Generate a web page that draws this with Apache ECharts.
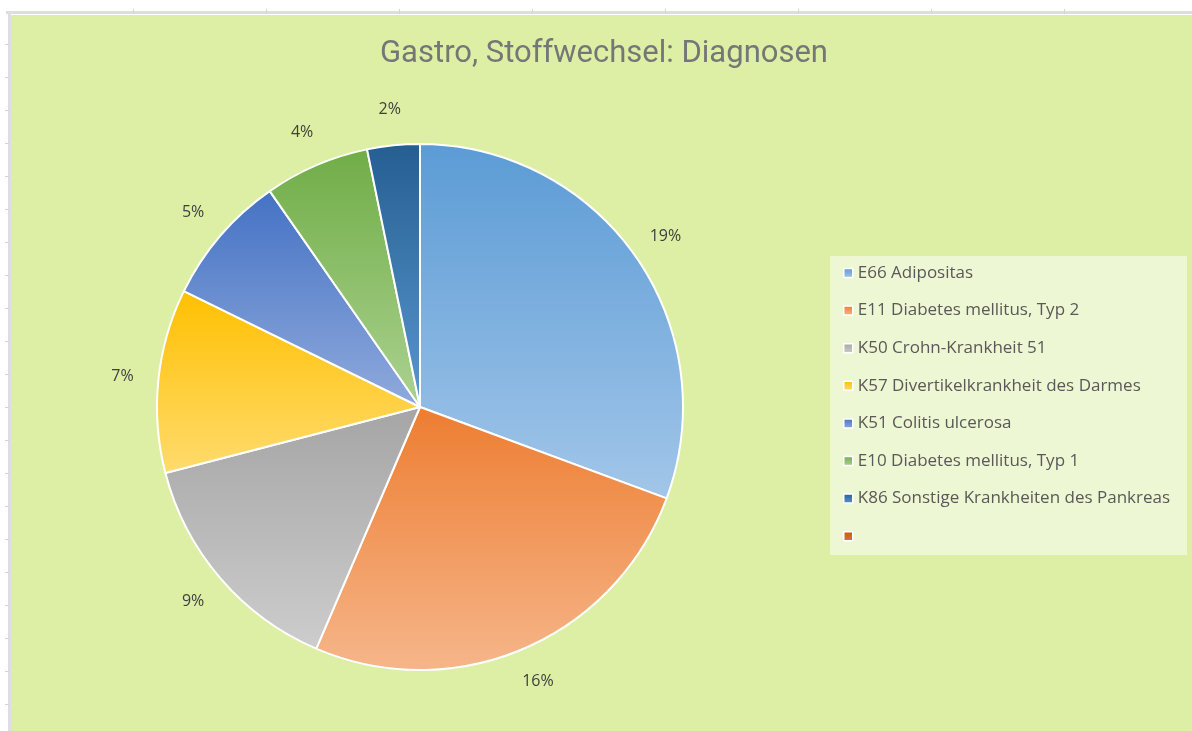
<!DOCTYPE html>
<html>
<head>
<meta charset="utf-8">
<script src="https://cdn.jsdelivr.net/npm/echarts@6/dist/echarts.min.js"></script>
<style>
html,body{margin:0;padding:0;background:#fff;}
#c{width:1192px;height:731px;}
</style>
</head>
<body>
<div id="c"></div>
<script>
const titleText = 'Gastro, Stoffwechsel: Diagnosen';
const categories = [
  'E66 Adipositas',
  'E11 Diabetes mellitus, Typ 2',
  'K50 Crohn-Krankheit 51',
  'K57 Divertikelkrankheit des Darmes',
  'K51 Colitis ulcerosa',
  'E10 Diabetes mellitus, Typ 1',
  'K86 Sonstige Krankheiten des Pankreas',
  ' '
];
const values = [19, 16, 9, 7, 5, 4, 2, 0];
const topColors = ['#5B9BD5', '#ED7D31', '#A5A5A5', '#FFC000', '#4472C4', '#70AD47', '#255E91', '#C55A11'];
const bottomColors = ['#A2C6E9', '#F6B68A', '#CDCDCD', '#FFDB6E', '#90AADC', '#ABD290', '#5A97CF', '#D9763A'];

function grad(i) {
  return new echarts.graphic.LinearGradient(0, 0, 0, 1, [
    {offset: 0, color: topColors[i]},
    {offset: 1, color: bottomColors[i]}
  ]);
}

const pieData = categories.map((n, i) => {
  const d = {name: n, value: values[i], itemStyle: {color: grad(i)}};
  if (values[i] === 0) { d.itemStyle.borderWidth = 0; d.label = {show: false}; }
  return d;
});
const labelData = categories.map((n, i) => {
  const d = {name: n, value: values[i]};
  if (values[i] === 0) { d.label = {show: false}; }
  return d;
});

// decorative spreadsheet frame
const frame = [
  {type: 'rect', shape: {x: 11, y: 15, width: 1181, height: 716}, style: {fill: '#DDEFA4'}, z: -10},
  {type: 'rect', shape: {x: 6, y: 11, width: 1186, height: 3}, style: {fill: '#DEDEDE'}, z: -9},
  {type: 'rect', shape: {x: 8, y: 11, width: 3, height: 720}, style: {fill: '#DEDEDE'}, z: -9},
  {type: 'rect', shape: {x: 830, y: 256, width: 357, height: 299}, style: {fill: '#EEF7D3'}, z: -5}
];
for (let x = 133; x < 1192; x += 133) {
  frame.push({type: 'rect', shape: {x: x, y: 9, width: 1, height: 5}, style: {fill: '#D4D4D4'}, z: -8});
}
for (let y = 44; y < 731; y += 33) {
  frame.push({type: 'rect', shape: {x: 5, y: y, width: 4, height: 1}, style: {fill: '#D4D4D4'}, z: -8});
}

const chart = echarts.init(document.getElementById('c'));
chart.setOption({
  backgroundColor: '#fff',
  animation: false,
  graphic: frame,
  title: {
    text: titleText,
    left: 599,
    textAlign: 'center',
    top: 34,
    textStyle: {fontFamily: 'Roboto', fontSize: 31, fontWeight: 'normal', color: '#767676'}
  },
  legend: {
    orient: 'vertical',
    left: 838,
    top: 257,
    data: categories,
    itemWidth: 9,
    itemHeight: 9,
    itemGap: 15.6,
    icon: 'rect',
    itemStyle: {borderColor: '#fff', borderWidth: 1.5},
    textStyle: {fontFamily: 'Open Sans', fontSize: 17, color: '#595959', lineHeight: 22}
  },
  series: [
    {
      type: 'pie',
      center: [420, 407],
      radius: 263,
      startAngle: 90,
      clockwise: true,
      label: {show: false},
      labelLine: {show: false},
      itemStyle: {borderColor: '#fff', borderWidth: 2},
      emphasis: {disabled: true},
      data: pieData
    },
    {
      type: 'pie',
      center: [420, 407],
      radius: [284, 308],
      startAngle: 90,
      clockwise: true,
      silent: true,
      itemStyle: {color: 'rgba(0,0,0,0)', borderWidth: 0},
      label: {
        show: true,
        position: 'inside',
        formatter: '{c}%',
        fontFamily: 'Open Sans',
        fontSize: 16,
        color: '#404040'
      },
      labelLine: {show: false},
      emphasis: {disabled: true},
      data: labelData
    }
  ]
});
</script>
</body>
</html>
